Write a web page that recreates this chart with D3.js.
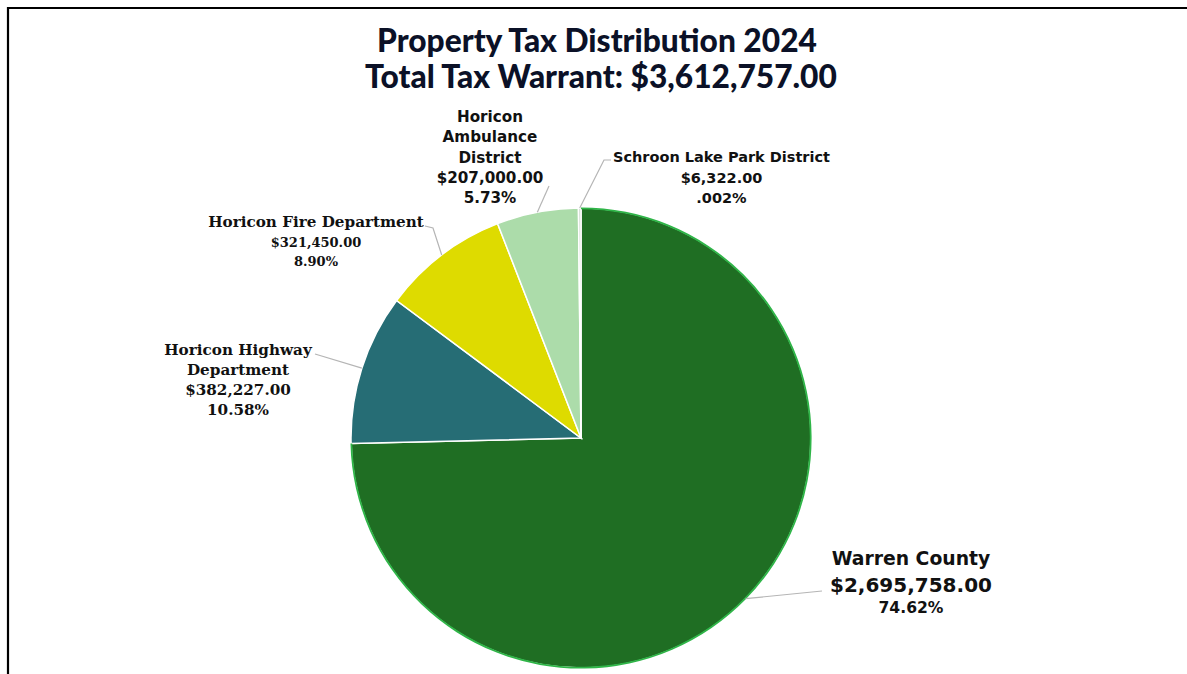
<!DOCTYPE html>
<html><head><meta charset="utf-8">
<script src="https://cdn.jsdelivr.net/npm/d3@7"></script>
<style>body{margin:0;background:#fff}svg{display:block}</style>
</head><body>
<svg id="c" width="1187" height="674"></svg>
<script>
const titleLines = ["Property Tax Distribution 2024", "Total Tax Warrant: $3,612,757.00"];
const categories = ["Warren County", "Horicon Highway Department", "Horicon Fire Department", "Horicon Ambulance District", "Schroon Lake Park District"];
const values = [2695758, 382227, 321450, 207000, 6322];
const percentLabels = ["74.62%", "10.58%", "8.90%", "5.73%", ".002%"];
const nameLines = [["Warren County"], ["Horicon Highway", "Department"], ["Horicon Fire Department"], ["Horicon", "Ambulance", "District"], ["Schroon Lake Park District"]];
const colors = ["#1f6e23", "#266d75", "#dedb00", "#acdcaa", "#cfd8cf"];

const svg = d3.select("#c");
const W = 1187, H = 674;
const cx = 581, cy = 438, R = 230;

svg.append("path").attr("d", `M8,${H} L8,8 L${W},8`).attr("fill", "none").attr("stroke", "#000").attr("stroke-width", 2.2);

const tt = svg.append("text").attr("text-anchor", "middle").attr("font-family", "Lato").attr("font-weight", 900)
  .attr("font-size", 31.7).attr("fill", "#0b1127");
tt.append("tspan").attr("x", 597).attr("y", 52).text(titleLines[0]);
tt.append("tspan").attr("x", 601).attr("y", 88).text(titleLines[1]);

const data = categories.map((c, i) => ({ name: c, value: values[i], pct: percentLabels[i], lines: nameLines[i], color: colors[i] }));
const pie = d3.pie().value(d => d.value).sort(null);
const arcs = pie(data);
const arc = d3.arc().innerRadius(0).outerRadius(R);
const g = svg.append("g").attr("transform", `translate(${cx},${cy})`);
g.selectAll("path.s").data(arcs).join("path").attr("class", "s")
  .attr("d", arc).attr("fill", d => d.data.color).attr("stroke", "#fff").attr("stroke-width", 1.5);
g.append("path").attr("d", d3.arc().innerRadius(R - 1.2).outerRadius(R + 0.6)(arcs[0])).attr("fill", "#2fb548");

const fmt = d3.format("$,.2f");
const sans = "DejaVu Sans", serif = "DejaVu Serif";
const layout = [
  { x: 911, y: 565, font: sans, rows: [[18.8, 700], [20, 700], [15.6, 700]], lh: [0, 27, 21], leader: [[822, 591]] },
  { x: 238, y: 355, font: serif, rows: [[15.2, 700], [15.2, 700], [15.2, 700]], lh: [0, 20, 20, 20], leader: [[315, 354]] },
  { x: 316, y: 227, font: serif, rows: [[15.2, 700], [13, 700], [13, 700]], lh: [0, 20, 19], leader: [[433, 228], [425, 226]] },
  { x: 490, y: 122, font: sans, rows: [[15.2, 700], [15.2, 700], [15.2, 700]], lh: [0, 20.3, 20.3, 20.3, 20.3], leader: [[549, 186]] },
  { x: 721.5, y: 162, font: sans, rows: [[14.5, 700], [14.5, 700], [14.5, 700]], lh: [0, 20.5, 20.5], leader: [[604, 160], [611, 160]] }
];

arcs.forEach((a, i) => {
  const L = layout[i];
  const mid = (a.startAngle + a.endAngle) / 2;
  const p0 = [cx + R * Math.sin(mid), cy - R * Math.cos(mid)];
  const pts = [p0].concat(L.leader);
  svg.append("path").attr("d", d3.line()(pts)).attr("fill", "none").attr("stroke", "#b5b5b5").attr("stroke-width", 1.2);
  const lines = a.data.lines.map(t => ({ t, r: 0 })).concat([{ t: fmt(a.data.value), r: 1 }, { t: a.data.pct, r: 2 }]);
  const txt = svg.append("text").attr("text-anchor", "middle").attr("font-family", L.font).attr("fill", "#111");
  let y = L.y;
  lines.forEach((ln, k) => {
    if (k > 0) y += L.lh[Math.min(k, L.lh.length - 1)];
    const st = L.rows[ln.r];
    txt.append("tspan").attr("x", L.x).attr("y", y).attr("font-size", st[0]).attr("font-weight", st[1]).text(ln.t);
  });
});
</script>
</body></html>
